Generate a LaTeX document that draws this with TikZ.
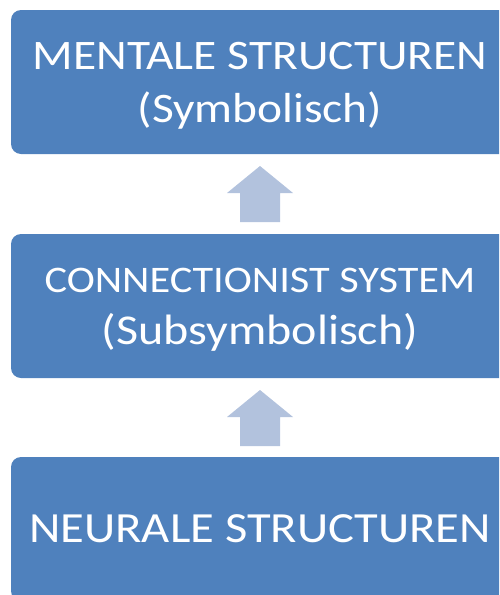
\documentclass[tikz,border=0pt]{standalone}
\usepackage{fontspec}
\setmainfont{Carlito}
\newfontfamily\widefont[FakeStretch=1.13]{Carlito}
\usetikzlibrary{calc}
\definecolor{boxblue}{HTML}{4F81BD}
\definecolor{arrowblue}{HTML}{B2C2DD}
\begin{document}
\begin{tikzpicture}[x=1pt,y=-1pt,
  levelbox/.style={fill=boxblue,draw=none,rounded corners=10pt},
  leveltext/.style={text=white,align=center,inner sep=0pt},
  uparrow/.style={fill=arrowblue,draw=none}]
\useasboundingbox (0,0) rectangle (499,595);
\clip (0,0) rectangle (499,595);
% three stacked levels
\fill[levelbox] (11,10) rectangle (509,154);
\fill[levelbox] (11,234) rectangle (509,378);
\fill[levelbox] (11,457) rectangle (509,601);
\node[leveltext,font=\widefont\fontsize{42}{53}\selectfont] (mental) at (260,86)
  {MENTALE STRUCTUREN\\(Symbolisch)};
\node[leveltext,font=\widefont\fontsize{42.5}{52}\selectfont] (conn) at (260,309.5)
  {{\fontsize{37.5}{52}\selectfont CONNECTIONIST SYSTEM}\\(Subsymbolisch)};
\node[leveltext,font=\widefont\fontsize{43}{52}\selectfont,anchor=base] (neural) at (260,542)
  {NEURALE STRUCTUREN};
% block arrows pointing upwards between the levels
\coordinate (a1) at (260,166);
\coordinate (a2) at (260,390);
\foreach \a in {a1,a2}{
  \fill[uparrow] (\a) -- ++(33,27) -- ++(-13,0) -- ++(0,29) -- ++(-40,0)
    -- ++(0,-29) -- ++(-13,0) -- cycle;
}
\end{tikzpicture}
\end{document}
